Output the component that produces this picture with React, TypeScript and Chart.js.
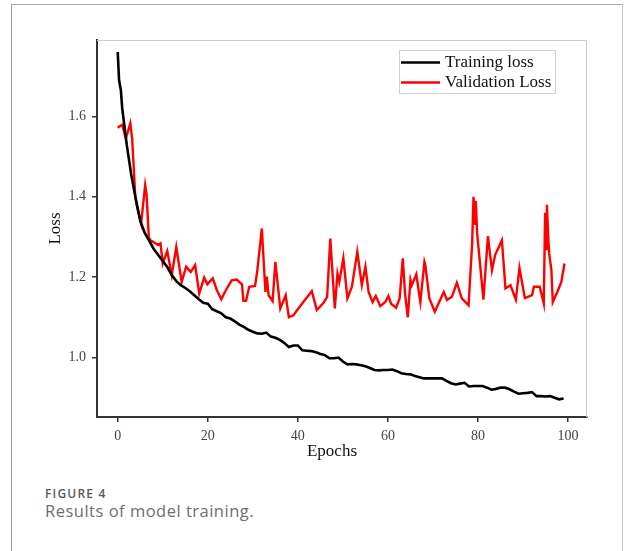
import React, { useEffect, useRef } from 'react';
import { Chart, registerables } from 'chart.js';

Chart.register(...registerables);

// ---- data ----
const trainEpochs = [
  0, 0.3, 0.5, 0.7, 1, 2, 3, 4, 5, 6, 7, 8, 9, 10, 11, 12, 13, 14, 15, 16, 17, 18, 19, 20,
  21, 22, 23, 24, 25, 26, 27, 28, 29, 30, 31, 32, 33, 34, 35, 36, 37, 38, 39, 40,
  41, 42, 43, 44, 45, 46, 47, 48, 49, 50, 51, 52, 53, 54, 55, 56, 57, 58, 59, 60,
  61, 62, 63, 64, 65, 66, 67, 68, 69, 70, 71, 72, 73, 74, 75, 76, 77, 78, 79, 80,
  81, 82, 83, 84, 85, 86, 87, 88, 89, 90, 91, 92, 93, 94, 95, 96, 97, 98, 99,
];
const trainLoss = [
  1.76, 1.69, 1.69, 1.665, 1.62, 1.53, 1.455, 1.395, 1.34, 1.31, 1.29, 1.27, 1.255, 1.24,
  1.225, 1.205, 1.19, 1.18, 1.173, 1.165, 1.155, 1.145, 1.136, 1.134,
  1.12, 1.115, 1.11, 1.1, 1.097, 1.09, 1.082, 1.076, 1.069, 1.064, 1.06, 1.059, 1.062, 1.052,
  1.049, 1.044, 1.036, 1.026, 1.03, 1.03,
  1.018, 1.017, 1.016, 1.013, 1.009, 1.006, 0.998, 0.998, 1.0, 0.99, 0.983, 0.984, 0.983,
  0.981, 0.978, 0.974, 0.969, 0.968, 0.969, 0.969,
  0.97, 0.966, 0.961, 0.959, 0.958, 0.954, 0.951, 0.948, 0.948, 0.948, 0.948, 0.948, 0.942,
  0.936, 0.933, 0.935, 0.937, 0.928, 0.929, 0.929,
  0.929, 0.925, 0.92, 0.922, 0.925, 0.925, 0.921, 0.915, 0.91, 0.911, 0.912, 0.914, 0.904,
  0.904, 0.903, 0.904, 0.9, 0.896, 0.898,
];

const validEpochs = [
  0, 1.0, 1.8, 2.8, 3.2, 3.9, 4.3, 5.2, 6.1, 6.4, 6.9, 7.2, 9.0, 9.5, 10.0, 11.0, 12.0, 13.0,
  14.2, 15.2, 16.2, 17.2, 18.1, 19.2, 19.9, 21.1, 22.0, 23.0, 23.8, 25.3, 26.4, 27.6, 27.9,
  28.5, 29.2, 30.5, 31.0, 32.0, 32.8, 33.1, 33.5, 34.4, 35.0, 36.1, 37.3, 38.0, 39.0, 41.2,
  43.1, 44.2, 45.7, 46.5, 47.2, 48.2, 48.8, 49.2, 50.1, 51.0, 52.0, 53.2, 54.2, 55.0, 55.7,
  56.6, 57.3, 58.3, 59.4, 60.1, 60.7, 61.8, 62.6, 63.3, 63.8, 64.4, 65.0, 65.3, 66.3, 67.2,
  68.1, 68.3, 69.2, 70.4, 71.2, 72.4, 73.1, 74.2, 75.3, 76.4, 77.9, 78.7, 79.0, 79.3, 79.5,
  79.8, 81.2, 82.2, 83.1, 83.8, 85.3, 86.1, 87.2, 88.4, 89.2, 90.4, 92.0, 92.4, 93.7, 94.6,
  94.9, 95.1, 95.3, 95.6, 95.8, 96.3, 96.6, 97.6, 98.5, 99.2,
];
const validLoss = [
  1.572, 1.579, 1.545, 1.583, 1.545, 1.4, 1.375, 1.334, 1.429, 1.407, 1.3, 1.292, 1.28, 1.284,
  1.234, 1.265, 1.205, 1.275, 1.188, 1.226, 1.213, 1.23, 1.159, 1.199, 1.182, 1.197, 1.168,
  1.145, 1.163, 1.192, 1.194, 1.182, 1.141, 1.141, 1.176, 1.178, 1.217, 1.321, 1.163, 1.201,
  1.155, 1.14, 1.238, 1.122, 1.155, 1.1, 1.105, 1.138, 1.165, 1.118, 1.136, 1.151, 1.296,
  1.122, 1.209, 1.188, 1.247, 1.147, 1.176, 1.263, 1.18, 1.226, 1.163, 1.138, 1.153, 1.128,
  1.138, 1.153, 1.134, 1.124, 1.147, 1.247, 1.159, 1.1, 1.193, 1.18, 1.207, 1.138, 1.238,
  1.23, 1.147, 1.114, 1.134, 1.163, 1.143, 1.151, 1.186, 1.147, 1.13, 1.284, 1.4, 1.33, 1.39,
  1.31, 1.144, 1.302, 1.217, 1.255, 1.292, 1.172, 1.18, 1.144, 1.223, 1.148, 1.155, 1.176,
  1.176, 1.134, 1.36, 1.27, 1.38, 1.3, 1.259, 1.217, 1.138, 1.163, 1.188, 1.234,
];

const xTicks = [0, 20, 40, 60, 80, 100];
const yTicks = [1.0, 1.2, 1.4, 1.6];
const seriesNames = ['Training loss', 'Validation Loss'];
const seriesColors = ['#000000', '#ff0000'];
const xTitle = 'Epochs';
const yTitle = 'Loss';
const captionLabel = 'FIGURE 4';
const captionText = 'Results of model training.';

const SERIF = '"Liberation Serif", "Times New Roman", serif';

const decorPlugin = {
  id: 'decor',
  afterDraw(chart: any) {
    const { ctx, chartArea: a } = chart;
    ctx.save();
    // light top / right frame of plot area
    ctx.strokeStyle = '#cacaca';
    ctx.lineWidth = 1;
    ctx.beginPath();
    ctx.moveTo(a.left, a.top + 0.5);
    ctx.lineTo(a.right - 0.5, a.top + 0.5);
    ctx.lineTo(a.right - 0.5, a.bottom);
    ctx.stroke();

    // legend box
    const bx = a.right - 187.5;
    const by = a.top + 10.5;
    const bw = 156;
    const bh = 43;
    ctx.fillStyle = '#ffffff';
    ctx.fillRect(bx, by, bw, bh);
    ctx.strokeStyle = '#cfcfcf';
    ctx.strokeRect(bx, by, bw, bh);
    ctx.font = `17px ${SERIF}`;
    ctx.textBaseline = 'middle';
    ctx.textAlign = 'left';
    seriesNames.forEach((name, i) => {
      const y = by + 12 + i * 20;
      ctx.strokeStyle = seriesColors[i];
      ctx.lineWidth = 2.6;
      ctx.beginPath();
      ctx.moveTo(bx + 1.5, y);
      ctx.lineTo(bx + 40.5, y);
      ctx.stroke();
      ctx.fillStyle = '#111';
      ctx.fillText(name, bx + 45.5, y);
    });

    // x axis title
    ctx.font = `17px ${SERIF}`;
    ctx.textAlign = 'center';
    ctx.textBaseline = 'middle';
    ctx.fillStyle = '#111';
    ctx.fillText(xTitle, (a.left + a.right) / 2 - 10, a.bottom + 35);
    ctx.restore();
  },
};

export default function App() {
  const ref = useRef<HTMLCanvasElement | null>(null);

  useEffect(() => {
    if (!ref.current) return;
    const chart = new Chart(ref.current, {
      type: 'line',
      data: {
        datasets: [
          {
            label: seriesNames[0],
            data: trainEpochs.map((x, i) => ({ x, y: trainLoss[i] })),
            borderColor: seriesColors[0],
            borderWidth: 2.6,
            pointRadius: 0,
            tension: 0,
            fill: false,
          },
          {
            label: seriesNames[1],
            data: validEpochs.map((x, i) => ({ x, y: validLoss[i] })),
            borderColor: seriesColors[1],
            borderWidth: 2.4,
            pointRadius: 0,
            tension: 0,
            fill: false,
          },
        ],
      },
      options: {
        animation: false,
        responsive: false,
        devicePixelRatio: 1,
        layout: { padding: { top: 40, right: 37, left: 0, bottom: 0 } },
        plugins: {
          legend: { display: false },
          tooltip: { enabled: false },
        },
        scales: {
          x: {
            type: 'linear',
            min: -4.6,
            max: 104.2,
            afterBuildTicks: (s: any) => {
              s.ticks = xTicks.map((v) => ({ value: v }));
            },
            afterFit: (s: any) => {
              s.height = 53;
            },
            border: { display: true, color: '#333', width: 2 },
            grid: {
              display: true,
              drawOnChartArea: false,
              drawTicks: true,
              tickLength: 5,
              color: '#333',
              lineWidth: 1.5,
            },
            ticks: {
              padding: 6,
              color: '#444',
              font: { family: SERIF, size: 14 },
              maxRotation: 0,
              callback: (v: any) => String(v),
            },
          },
          y: {
            type: 'linear',
            min: 0.852,
            max: 1.79,
            afterBuildTicks: (s: any) => {
              s.ticks = yTicks.map((v) => ({ value: v }));
            },
            afterFit: (s: any) => {
              s.width = 97;
            },
            border: { display: true, color: '#333', width: 2 },
            grid: {
              display: true,
              drawOnChartArea: false,
              drawTicks: true,
              tickLength: 5,
              color: '#333',
              lineWidth: 1.5,
            },
            ticks: {
              padding: 6,
              color: '#444',
              font: { family: SERIF, size: 14 },
              callback: (v: any) => Number(v).toFixed(1),
            },
            title: {
              display: true,
              text: yTitle,
              color: '#111',
              font: { family: SERIF, size: 17 },
              padding: { top: 45, bottom: 0 },
            },
          },
        },
      },
      plugins: [decorPlugin],
    } as any);
    return () => chart.destroy();
  }, []);

  return (
    <div
      style={{
        position: 'fixed',
        left: 0,
        top: 0,
        width: 624,
        height: 551,
        background: '#fff',
        overflow: 'hidden',
      }}
    >
      <div
        style={{
          position: 'absolute',
          left: 11,
          top: 4,
          width: 610,
          height: 600,
          borderTop: '1px solid #adadad',
          borderLeft: '1px solid #9a9a9a',
          borderRight: '1px solid #c8c8c8',
        }}
      />
      <canvas
        ref={ref}
        width={624}
        height={470}
        style={{ position: 'absolute', left: 0, top: 0, width: 624, height: 470 }}
      />
      <div
        style={{
          position: 'absolute',
          left: 45,
          top: 485.5,
          fontFamily: '"Open Sans", sans-serif',
          fontSize: 12,
          lineHeight: '16px',
          fontWeight: 600,
          letterSpacing: '1.2px',
          color: '#5a5a5a',
          whiteSpace: 'nowrap',
        }}
      >
        {captionLabel}
      </div>
      <div
        style={{
          position: 'absolute',
          left: 45,
          top: 501,
          fontFamily: '"Open Sans", sans-serif',
          fontSize: 16.5,
          lineHeight: '20px',
          fontWeight: 400,
          letterSpacing: '0.5px',
          color: '#6e6e6e',
          whiteSpace: 'nowrap',
        }}
      >
        {captionText}
      </div>
    </div>
  );
}
